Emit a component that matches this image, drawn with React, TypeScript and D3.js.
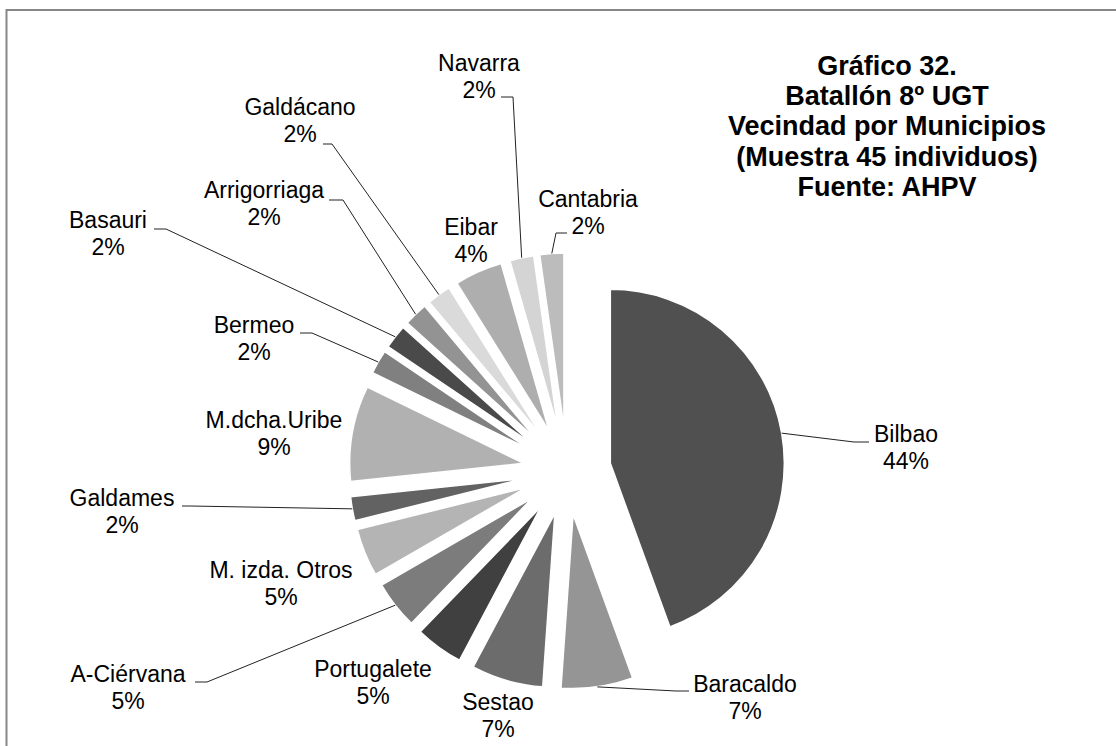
import React from "react";
import * as d3 from "d3";

// ---- data ----
const categories = [
  "Bilbao", "Baracaldo", "Sestao", "Portugalete", "A-Ciérvana", "M. izda. Otros",
  "Galdames", "M.dcha.Uribe", "Bermeo", "Basauri", "Arrigorriaga", "Galdácano",
  "Eibar", "Navarra", "Cantabria",
];
const counts = [20, 3, 3, 2, 2, 2, 1, 4, 1, 1, 1, 1, 2, 1, 1];
const percentLabels = ["44%", "7%", "7%", "5%", "5%", "5%", "2%", "9%", "2%", "2%", "2%", "2%", "4%", "2%", "2%"];
const titleLines = [
  "Gráfico 32.",
  "Batallón 8º UGT",
  "Vecindad por Municipios",
  "(Muestra 45 individuos)",
  "Fuente: AHPV",
];

// ---- styles / layout ----
const sliceColors = [
  "#505050", "#959595", "#6c6c6c", "#404040", "#7c7c7c", "#b4b4b4",
  "#626262", "#b1b1b1", "#808080", "#4a4a4a", "#939393", "#dadada",
  "#aeaeae", "#d4d4d4", "#bcbcbc",
];
// [text centre x, first baseline y]
const labelPos: [number, number][] = [
  [906, 442], [745, 692], [498, 710], [373, 677], [128, 682], [281, 578],
  [122, 506], [274, 428], [254, 333], [108, 228], [264, 198], [300, 115],
  [471, 235], [479, 71], [588, 207],
];
// leader: [elbow, end] or null
const leaders: ([number, number][] | null)[] = [
  [[854, 442], [869, 442]],
  [[676, 691], [689, 691]],
  null,
  null,
  [[207, 682], [195, 682]],
  null,
  [[190, 506], [182, 506]],
  null,
  [[312, 333], [300, 333]],
  [[166, 229], [154, 229]],
  [[343, 200], [329, 200]],
  [[332, 144], [323, 144]],
  null,
  [[513, 97], [501, 97]],
  [[556, 233], [567, 233]],
];

const W = 1116;
const H = 746;
const CX = 567;
const CY = 471;
const R = 174;
const EXPLODE = 44;
const LABEL_FONT = 23;
const LINE_GAP = 26.6;

export default function App() {
  const pie = d3
    .pie<number>()
    .sort(null)
    .value((d) => d)
    .startAngle(0)
    .endAngle(2 * Math.PI);
  const arcs = pie(counts);
  const arcGen = d3.arc<d3.PieArcDatum<number>>().innerRadius(0).outerRadius(R);

  const slices = arcs.map((a, i) => {
    const mid = (a.startAngle + a.endAngle) / 2;
    const dx = Math.sin(mid) * EXPLODE;
    const dy = -Math.cos(mid) * EXPLODE;
    const ox = CX + dx;
    const oy = CY + dy;
    const edge: [number, number] = [ox + Math.sin(mid) * R, oy - Math.cos(mid) * R];
    return { a, i, ox, oy, edge };
  });

  return (
    <svg
      width={W}
      height={H}
      style={{ position: "absolute", left: 0, top: 0, background: "#fff" }}
      fontFamily="'Liberation Sans', Arial, sans-serif"
    >
      <rect x={0} y={0} width={W} height={H} fill="#fff" />
      <path d={`M6.5,${H} L6.5,10 L${W},10`} fill="none" stroke="#878787" strokeWidth={2} />
      {slices.map(({ a, i, ox, oy }) => (
        <path
          key={categories[i]}
          d={arcGen(a) || ""}
          transform={`translate(${ox},${oy})`}
          fill={sliceColors[i]}
          stroke="#fff"
          strokeWidth={1.5}
        />
      ))}
      {slices.map(({ i, edge }) => {
        const l = leaders[i];
        if (!l) return null;
        const pts = [edge, ...l];
        return (
          <path
            key={"l" + i}
            d={d3.line()(pts) || ""}
            fill="none"
            stroke="#222"
            strokeWidth={1}
          />
        );
      })}
      {categories.map((c, i) => (
        <text
          key={"t" + i}
          x={labelPos[i][0]}
          y={labelPos[i][1]}
          textAnchor="middle"
          fontSize={LABEL_FONT}
          fill="#000"
        >
          <tspan x={labelPos[i][0]}>{c}</tspan>
          <tspan x={labelPos[i][0]} dy={LINE_GAP}>
            {percentLabels[i]}
          </tspan>
        </text>
      ))}
      <text textAnchor="middle" fontSize={27} fontWeight="bold" fill="#000">
        {titleLines.map((t, k) => (
          <tspan key={k} x={887} y={75 + k * 30.2}>
            {t}
          </tspan>
        ))}
      </text>
    </svg>
  );
}
